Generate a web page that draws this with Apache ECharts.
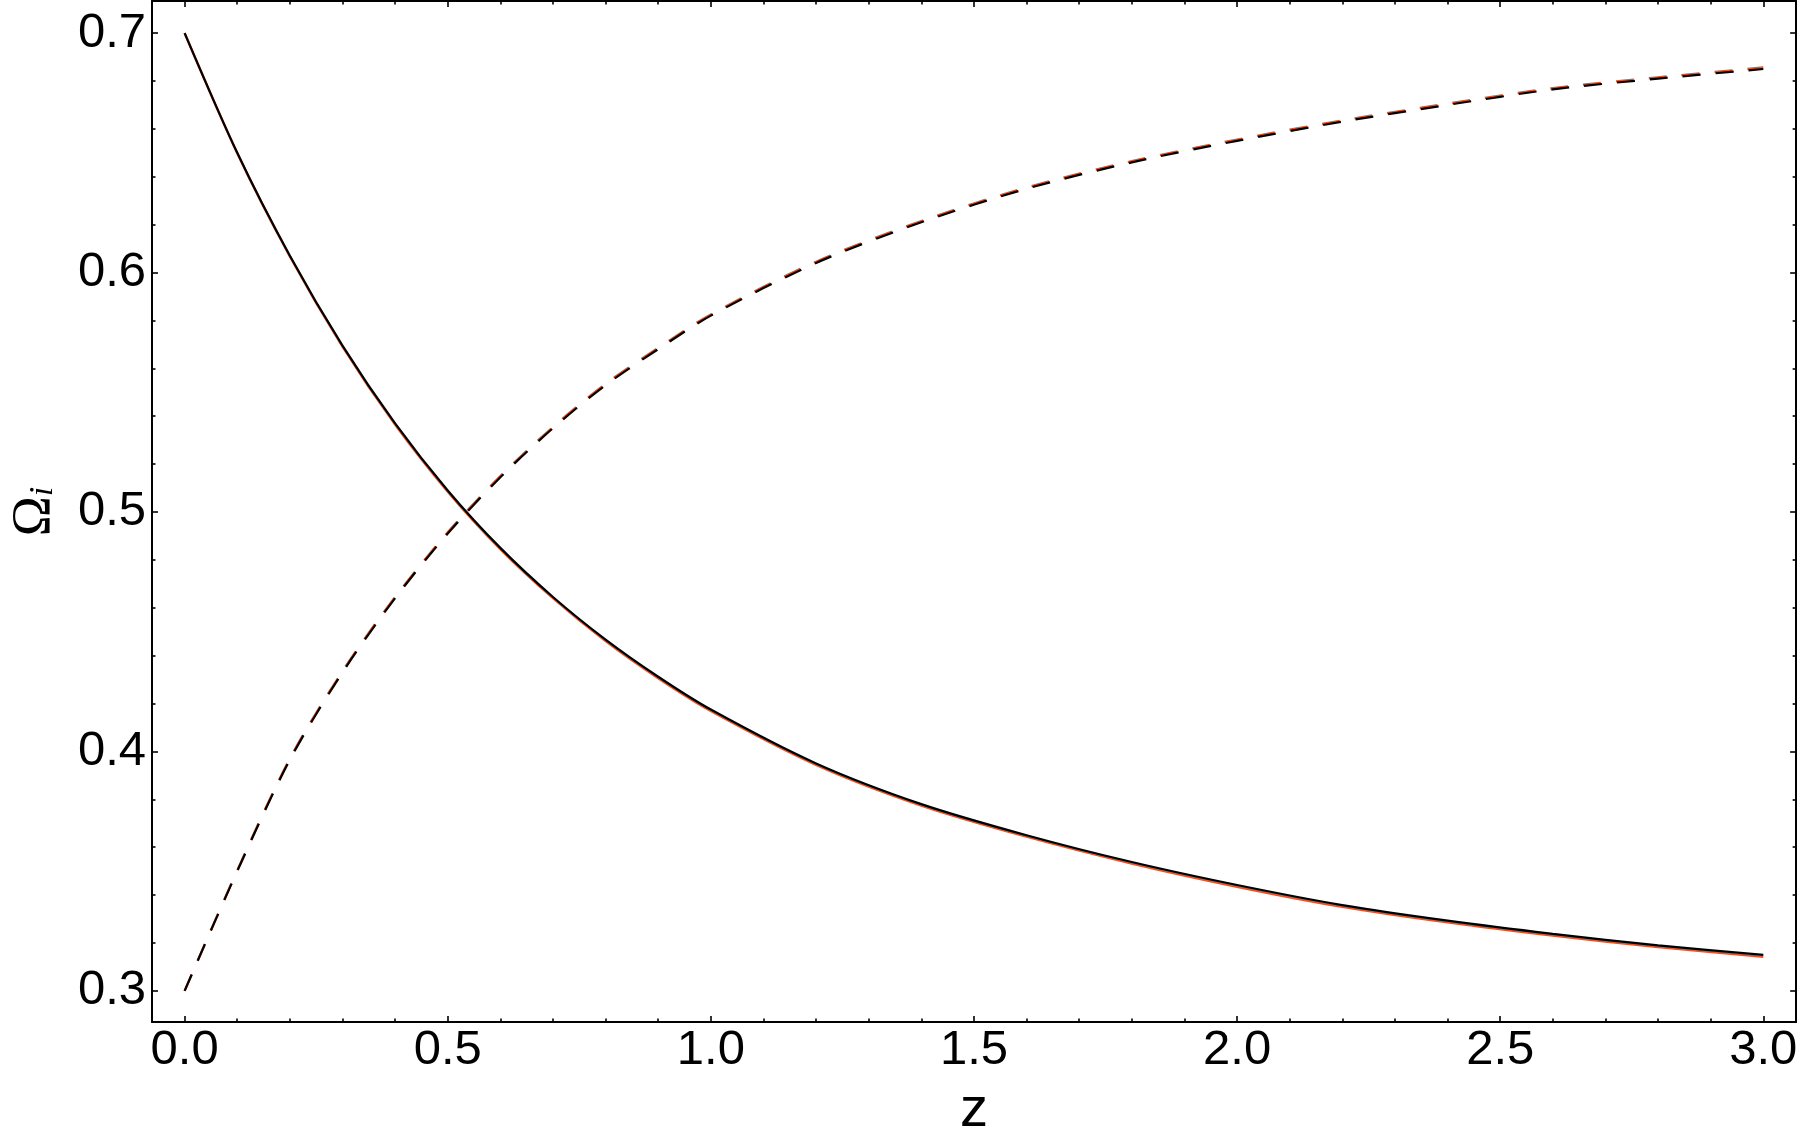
<!DOCTYPE html>
<html><head><meta charset="utf-8">
<script src="https://cdn.jsdelivr.net/npm/echarts@6/dist/echarts.min.js"></script>
<style>html,body{margin:0;padding:0;background:#fff}#c{width:1800px;height:1144px}</style>
</head><body><div id="c"></div>
<script>
// redshift samples
const zValues = [0, 0.1, 0.2, 0.3, 0.4, 0.5, 0.6, 0.7, 0.8, 0.9, 1.0, 1.2, 1.4, 1.6, 1.8, 2.0, 2.2, 2.4, 2.6, 2.8, 3.0];
// solid curves (decreasing)
const omegaSolidBlack = [0.700, 0.650, 0.607, 0.5695, 0.537, 0.509, 0.485, 0.4645, 0.4467, 0.4312, 0.4175, 0.395, 0.378, 0.365, 0.3538, 0.3442, 0.3358, 0.3293, 0.3238, 0.319, 0.315];
const omegaSolidRed   = [0.700, 0.6498, 0.6067, 0.5691, 0.5365, 0.5085, 0.4845, 0.464, 0.4461, 0.4306, 0.4169, 0.3944, 0.3774, 0.3644, 0.3532, 0.3435, 0.3351, 0.3286, 0.3231, 0.3183, 0.3142];
// dashed curves (increasing)
const omegaDashedBlack = [0.300, 0.350, 0.3965, 0.433, 0.464, 0.491, 0.5145, 0.535, 0.553, 0.568, 0.582, 0.604, 0.621, 0.635, 0.646, 0.655, 0.663, 0.670, 0.6765, 0.681, 0.685];
const omegaDashedRed   = [0.300, 0.3503, 0.397, 0.4335, 0.4645, 0.4915, 0.515, 0.5355, 0.5535, 0.5685, 0.5825, 0.6045, 0.6215, 0.6355, 0.6465, 0.6555, 0.6635, 0.6705, 0.677, 0.6815, 0.6856];
// ticks
const xMajorTicks = [0, 0.5, 1.0, 1.5, 2.0, 2.5, 3.0];
const xMinorTicks = [0.1, 0.2, 0.3, 0.4, 0.6, 0.7, 0.8, 0.9, 1.1, 1.2, 1.3, 1.4, 1.6, 1.7, 1.8, 1.9, 2.1, 2.2, 2.3, 2.4, 2.6, 2.7, 2.8, 2.9];
const yMajorTicks = [0.3, 0.4, 0.5, 0.6, 0.7];
const yMinorTicks = [0.32, 0.34, 0.36, 0.38, 0.42, 0.44, 0.46, 0.48, 0.52, 0.54, 0.56, 0.58, 0.62, 0.64, 0.66, 0.68];

const X_MIN = -0.062, X_MAX = 3.0624, Y_MIN = 0.2870, Y_MAX = 0.7134;
const pairs = (ys) => zValues.map((z, i) => [z, ys[i]]);

function xAx(pos, ticks, len, showLine, labels) {
  return {
    type: 'value', position: pos, min: X_MIN, max: X_MAX, gridIndex: 0,
    axisLine: { show: showLine, onZero: false, lineStyle: { color: '#000', width: 2 } },
    axisTick: { show: true, inside: true, length: len, customValues: ticks, lineStyle: { color: '#000', width: 1.6 } },
    axisLabel: labels ? {
      show: true, customValues: xMajorTicks, margin: 4, color: '#000',
      fontFamily: 'Liberation Sans', fontSize: 49, formatter: v => v.toFixed(1)
    } : { show: false },
    splitLine: { show: false },
    name: labels ? 'z' : '', nameLocation: 'middle', nameGap: 61,
    nameTextStyle: { color: '#000', fontFamily: 'Liberation Sans', fontSize: 56 }
  };
}
function yAx(pos, ticks, len, showLine, labels) {
  return {
    type: 'value', position: pos, min: Y_MIN, max: Y_MAX, gridIndex: 0,
    axisLine: { show: showLine, onZero: false, lineStyle: { color: '#000', width: 2 } },
    axisTick: { show: true, inside: true, length: len, customValues: ticks, lineStyle: { color: '#000', width: 1.6 } },
    axisLabel: labels ? {
      show: true, customValues: yMajorTicks, margin: 6, color: '#000',
      fontFamily: 'Liberation Sans', fontSize: 49, formatter: v => v.toFixed(1)
    } : { show: false },
    splitLine: { show: false },
    name: labels ? '{o|Ω}{s|i}' : '', nameLocation: 'middle', nameGap: 90, nameRotate: 90,
    nameTextStyle: {
      rich: {
        o: { fontFamily: 'Liberation Serif', fontSize: 54, color: '#000' },
        s: { fontFamily: 'Liberation Serif', fontStyle: 'italic', fontSize: 34, color: '#000', padding: [16, 0, 0, 0] }
      }
    }
  };
}

const chart = echarts.init(document.getElementById('c'), null, { renderer: 'canvas' });
chart.setOption({
  animation: false,
  backgroundColor: '#fff',
  grid: { left: 134, right: 3.5, top: 1, bottom: 116, containLabel: false },
  xAxis: [
    xAx('bottom', xMajorTicks, 6, true, true),
    xAx('bottom', xMinorTicks, 3.5, false, false),
    xAx('top', xMajorTicks, 6, true, false),
    xAx('top', xMinorTicks, 3.5, false, false)
  ],
  yAxis: [
    yAx('left', yMajorTicks, 6, true, true),
    yAx('left', yMinorTicks, 3.5, false, false),
    yAx('right', yMajorTicks, 6, true, false),
    yAx('right', yMinorTicks, 3.5, false, false)
  ],
  series: [
    { type: 'line', data: pairs(omegaSolidRed), showSymbol: false, smooth: 0.3,
      lineStyle: { color: '#e0562e', width: 2.4 }, z: 2 },
    { type: 'line', data: pairs(omegaDashedRed), showSymbol: false, smooth: 0.3,
      lineStyle: { color: '#e0562e', width: 2.4, type: [18, 15] }, z: 2 },
    { type: 'line', data: pairs(omegaSolidBlack), showSymbol: false, smooth: 0.3,
      lineStyle: { color: '#000', width: 2.2 }, z: 3 },
    { type: 'line', data: pairs(omegaDashedBlack), showSymbol: false, smooth: 0.3,
      lineStyle: { color: '#000', width: 2.2, type: [18, 15] }, z: 3 }
  ]
});
</script></body></html>
